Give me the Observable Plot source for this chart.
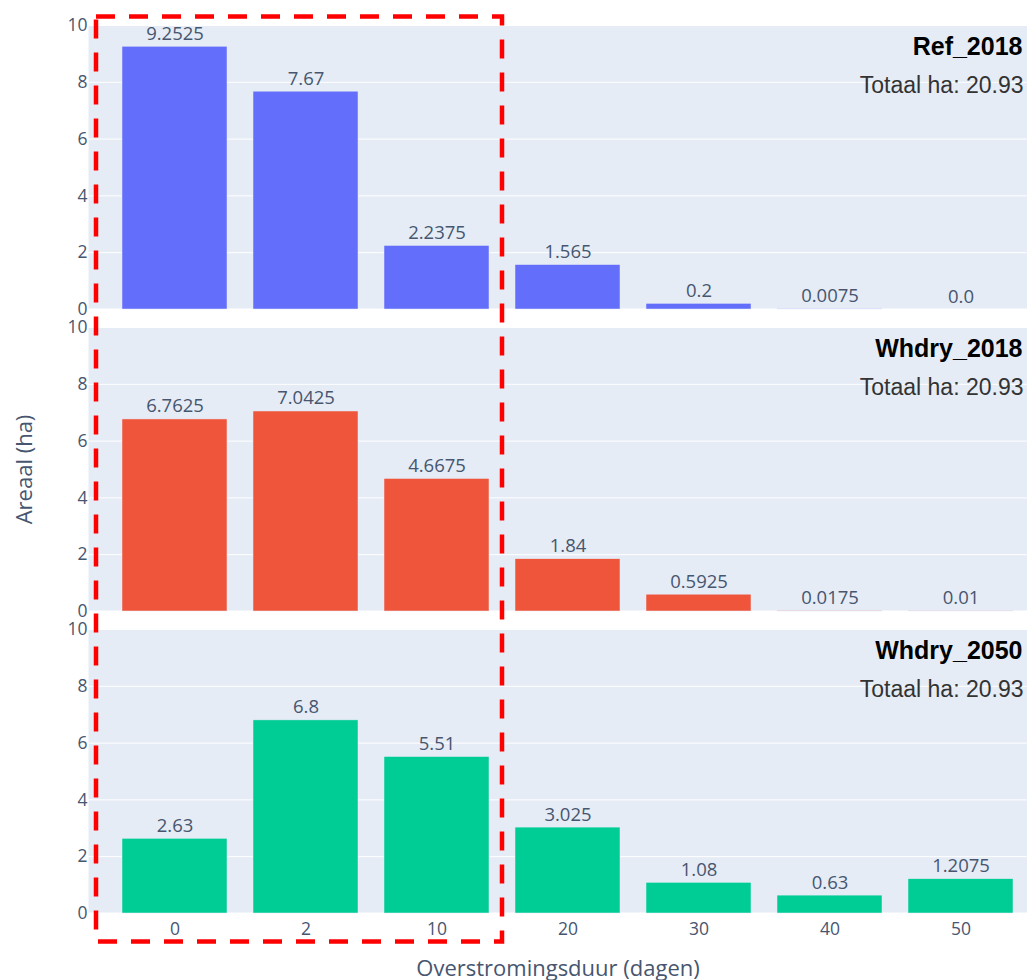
<!DOCTYPE html>
<html><head><meta charset="utf-8">
<script src="https://cdn.jsdelivr.net/npm/d3@7"></script>
<script src="https://cdn.jsdelivr.net/npm/@observablehq/plot@0.6"></script>
<style>body{margin:0;background:#fff;} #chart svg{display:block;}</style>
</head><body><div id="chart"></div>
<script>
const categories = ["0","2","10","20","30","40","50"];
const scenarios = ["Ref_2018","Whdry_2018","Whdry_2050"];
const ref2018 = [9.2525, 7.67, 2.2375, 1.565, 0.2, 0.0075, 0.0];
const whdry2018 = [6.7625, 7.0425, 4.6675, 1.84, 0.5925, 0.0175, 0.01];
const whdry2050 = [2.63, 6.8, 5.51, 3.025, 1.08, 0.63, 1.2075];
const totals = [20.93, 20.93, 20.93];
const colors = ["#636EFA","#EF553B","#00CC96"];
const yTicks = [0,2,4,6,8,10];
const xTitle = "Overstromingsduur (dagen)";
const yTitle = "Areaal (ha)";

const series = [ref2018, whdry2018, whdry2050];
const rows = scenarios.flatMap((s,i)=> categories.map((c,j)=>({scenario:s, duur:c, ha: series[i][j]})));
const fmt = v => Number.isInteger(v) ? v.toFixed(1) : String(v);
const notes = scenarios.map((s,i)=>({scenario:s, total: totals[i]}));
const txtColor = "#47566f";

const plot = Plot.plot({
  width: 1027, height: 980,
  marginTop: 24, marginBottom: 65, marginLeft: 88, marginRight: 0,
  style: {fontFamily:"'Open Sans', sans-serif", fontSize:"17px", color:txtColor, background:"white", overflow:"visible"},
  x: {domain: categories, range:[108.5,1025.5], paddingInner:0.2, paddingOuter:0.1, align:0.5, label:null},
  y: {domain:[0,10], label:null},
  fy: {domain: scenarios, paddingInner:0.0594, paddingOuter:0, axis:null, label:null},
  color: {domain: scenarios, range: colors},
  marks: [
    Plot.frame({fill:"#E5ECF6", stroke:"none"}),
    Plot.gridY(yTicks, {stroke:"white", strokeOpacity:1, strokeWidth:1}),
    Plot.ruleY([0], {stroke:"white", strokeWidth:2}),
    Plot.axisY(yTicks, {tickSize:0, tickPadding:1, fontSize:17.5, fill:txtColor, label:null}),
    Plot.axisX({tickSize:0, tickPadding:9, fontSize:17.5, fill:txtColor, label:null}),
    Plot.barY(rows, {x:"duur", y:"ha", fy:"scenario", fill:"scenario", stroke:"#E5ECF6", strokeWidth:0.5}),
    Plot.text(rows, {x:"duur", y:"ha", fy:"scenario", text: d=>fmt(d.ha), lineAnchor:"bottom", dy:-7, fill:txtColor, fontSize:18.5}),
    Plot.text(notes, {fy:"scenario", frameAnchor:"top-right", text:"scenario", dx:-5, dy:29, lineAnchor:"bottom", textAnchor:"end", fontFamily:"'Liberation Sans', Arial, sans-serif", fontWeight:"bold", fontSize:25, fill:"black"}),
    Plot.text(notes, {fy:"scenario", frameAnchor:"top-right", text: d=>`Totaal ha: ${d.total}`, dx:-4, dy:67, lineAnchor:"bottom", textAnchor:"end", fontFamily:"'Liberation Sans', Arial, sans-serif", fontSize:23, fill:"#333"})
  ]
});
document.getElementById("chart").appendChild(plot);

const ns = "http://www.w3.org/2000/svg";
const xs = plot.scale("x");
const step = xs.step, bw = xs.bandwidth;
const left = xs.apply("0") - (step - bw);
const right = (xs.apply("10") + bw + xs.apply("20")) / 2;
const rect = document.createElementNS(ns, "rect");
rect.setAttribute("x", left); rect.setAttribute("y", 16.5);
rect.setAttribute("width", right - left); rect.setAttribute("height", 925);
rect.setAttribute("fill", "none"); rect.setAttribute("stroke", "#FF0000");
rect.setAttribute("stroke-width", 4.5); rect.setAttribute("stroke-dasharray", "19,14");
plot.appendChild(rect);

function addText(str, x, y, rot){
  const t = document.createElementNS(ns, "text");
  t.textContent = str;
  t.setAttribute("text-anchor","middle");
  t.setAttribute("dominant-baseline","central");
  t.setAttribute("font-size","22");
  t.setAttribute("fill",txtColor);
  t.setAttribute("transform", `translate(${x},${y})` + (rot ? ` rotate(${rot})` : ""));
  plot.appendChild(t);
}
addText(xTitle, 558, 967, 0);
addText(yTitle, 23, 469.5, -90);
</script>
</body></html>
